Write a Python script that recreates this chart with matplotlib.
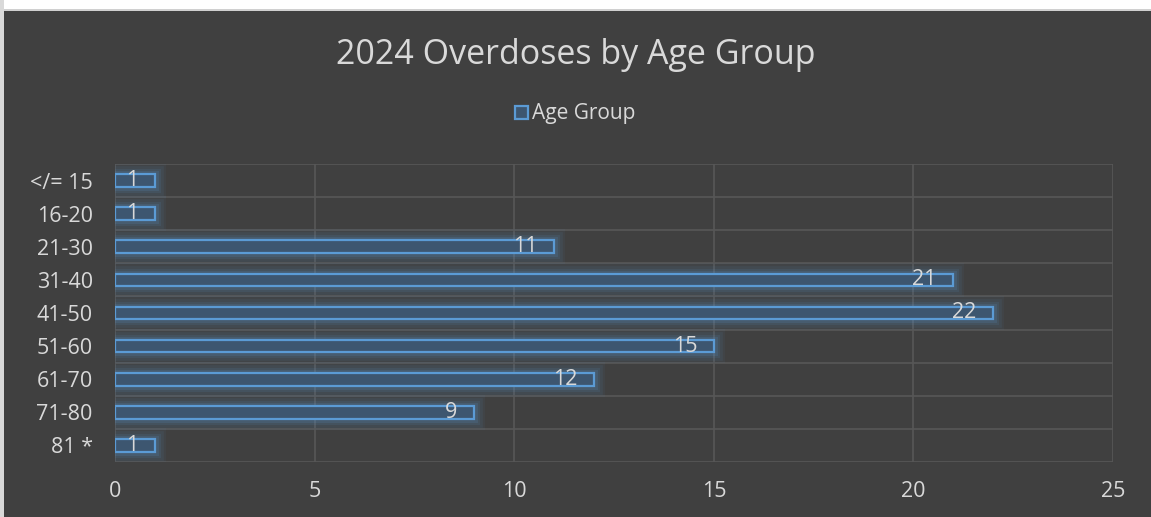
import matplotlib.pyplot as plt
import matplotlib.patheffects as pe
from matplotlib.patches import Rectangle
import numpy as np

age_groups = ["</= 15", "16-20", "21-30", "31-40", "41-50", "51-60", "61-70", "71-80", "81 *"]
overdoses = [1, 1, 11, 21, 22, 15, 12, 9, 1]
x_ticks = [0, 5, 10, 15, 20, 25]

bg = "#404040"
text_col = "#d9d9d9"
grid_col = "#575757"
bar_edge = "#5b9bd5"
bar_fill = "#3d5670"

plt.rcParams["font.family"] = ["Open Sans", "DejaVu Sans"]

fig = plt.figure(figsize=(11.51, 5.17), dpi=100, facecolor=bg)
# thin light frame on top / left of the chart panel
fig.patches.append(Rectangle((0, 1 - 9 / 517), 1, 9 / 517, transform=fig.transFigure,
                             facecolor="white", edgecolor="none", zorder=-1))
fig.patches.append(Rectangle((0, 1 - 11 / 517), 1, 2 / 517, transform=fig.transFigure,
                             facecolor="#d0d0d0", edgecolor="none", zorder=-1))
fig.patches.append(Rectangle((0, 0), 4 / 1151, 1, transform=fig.transFigure,
                             facecolor="#d9d9d9", edgecolor="none", zorder=-1))

ax = fig.add_axes([115 / 1151, 55 / 517, 998 / 1151, 298 / 517])
ax.set_facecolor(bg)

y = np.arange(len(age_groups))
glow = [
    pe.Stroke(linewidth=16, foreground=bar_edge, alpha=0.05),
    pe.Stroke(linewidth=12, foreground=bar_edge, alpha=0.07),
    pe.Stroke(linewidth=8, foreground=bar_edge, alpha=0.1),
    pe.Stroke(linewidth=5, foreground=bar_edge, alpha=0.15),
    pe.Normal(),
]
bars = ax.barh(y, overdoses, height=0.38, color=bar_fill, edgecolor=bar_edge,
               linewidth=1.6, zorder=3)
for b in bars:
    b.set_path_effects(glow)

for yi, v in zip(y, overdoses):
    ax.annotate(str(v), (v, yi), xytext=(-12, 0), textcoords="offset points",
                ha="right", va="center", color=text_col, fontsize=15.5, zorder=4)

ax.set_xlim(0, 25)
ax.set_ylim(len(age_groups) - 0.5, -0.5)
ax.set_xticks(x_ticks)
ax.set_yticks(y)
ax.set_yticklabels(age_groups)
ax.set_yticks(np.arange(-0.5, len(age_groups)), minor=True)
ax.tick_params(axis="both", which="both", length=0, colors=text_col, labelsize=15.5)
ax.tick_params(axis="x", pad=14)
ax.tick_params(axis="y", pad=16)
ax.grid(axis="x", color=grid_col, linewidth=1.2, zorder=0)
ax.grid(axis="y", which="minor", color=grid_col, linewidth=1.2, zorder=0)
for s in ax.spines.values():
    s.set_visible(False)

fig.text(0.5, 1 - 55 / 517, "2024 Overdoses by Age Group", ha="center", va="center",
         color=text_col, fontsize=24.5)
ax.legend([Rectangle((0, 0), 1, 1, facecolor=bar_fill, edgecolor=bar_edge, linewidth=1.6)],
          ["Age Group"], loc="center", bbox_to_anchor=(0.5, 1 - 114 / 517),
          bbox_transform=fig.transFigure, frameon=False, fontsize=15,
          labelcolor=text_col, handlelength=0.6, handleheight=0.6, handletextpad=0.2)

fig.savefig("out.png", dpi=100, facecolor=bg)
